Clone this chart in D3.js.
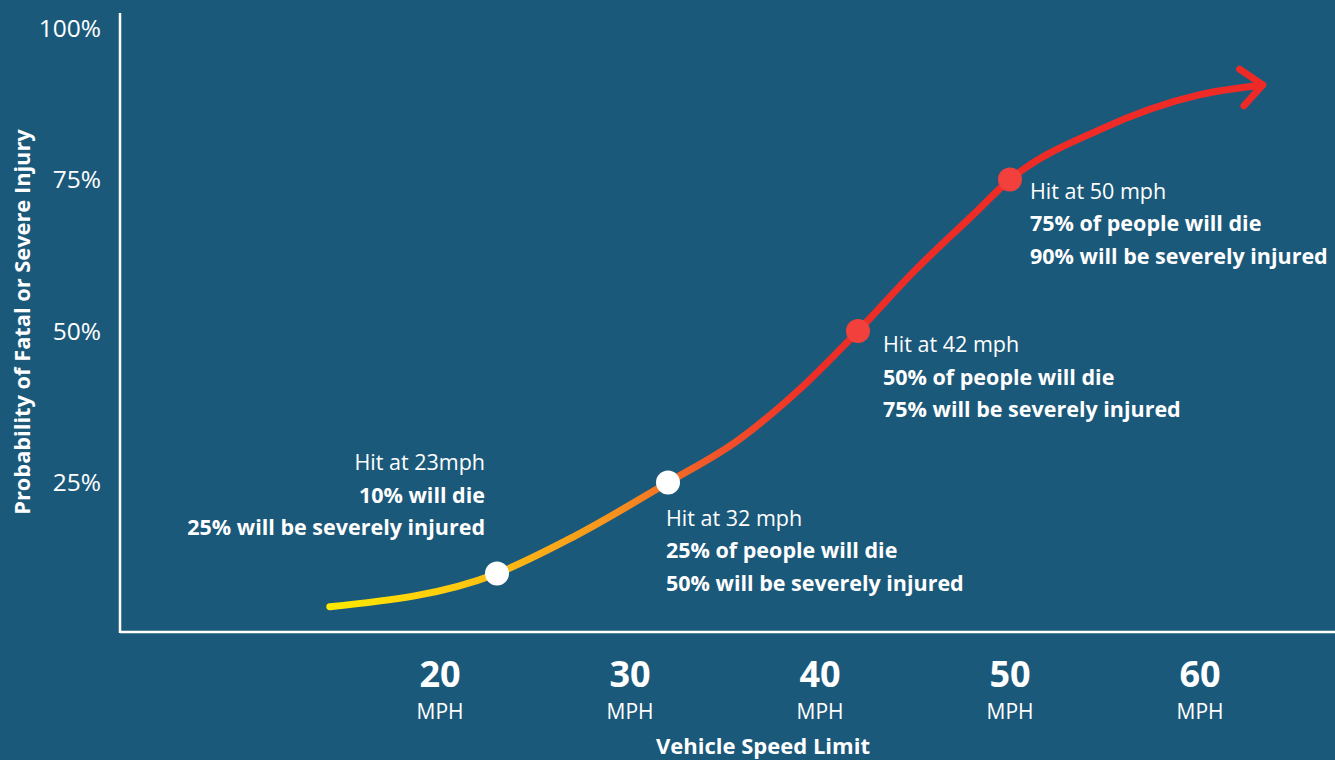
<!DOCTYPE html>
<html>
<head>
<meta charset="utf-8">
<script src="https://cdn.jsdelivr.net/npm/d3@7"></script>
<style>
  html, body { margin: 0; padding: 0; background: #1b597b; }
  svg { display: block; }
  text { font-family: "Open Sans", "Noto Sans", sans-serif; fill: #ffffff; }
</style>
</head>
<body>
<svg id="chart" width="1335" height="760"></svg>
<script>
// Risk curve: speed (mph) vs probability of fatal or severe injury (%)
const curveSpeed = [14.2, 23, 27, 32, 35.7, 38.9, 42, 45, 48, 50, 54.7, 60, 63.3];
const curvePct   = [4.5, 10, 16, 25, 32, 40.3, 50, 60, 69, 75, 83.2, 89, 90.6];

// Highlighted impact speeds
const hitSpeed = [23, 32, 42, 50];
const hitDie   = [10, 25, 50, 75];
const hitSevere = [25, 50, 75, 90];
const hitTitle = ["Hit at 23mph", "Hit at 32 mph", "Hit at 42 mph", "Hit at 50 mph"];
const hitLine2 = ["10% will die", "25% of people will die", "50% of people will die", "75% of people will die"];
const hitLine3 = ["25% will be severely injured", "50% will be severely injured", "75% will be severely injured", "90% will be severely injured"];
const hitFill  = ["#ffffff", "#ffffff", "#f2403c", "#f2403c"];

// Axis ticks
const xTicks = [20, 30, 40, 50, 60];
const xUnit = "MPH";
const yTicks = [25, 50, 75, 100];
const xTitle = "Vehicle Speed Limit";
const yTitle = "Probability of Fatal or Severe Injury";

const svg = d3.select("#chart");
const W = 1335, H = 760;

const x = d3.scaleLinear().domain([20, 60]).range([440, 1200]);
const y = d3.scaleLinear().domain([0, 100]).range([634, 28]);
const axisX = 120, axisY = 632;

// Axis frame
svg.append("line").attr("x1", axisX).attr("x2", axisX).attr("y1", 13).attr("y2", axisY + 1)
  .attr("stroke", "#fff").attr("stroke-width", 2.5);
svg.append("line").attr("x1", axisX).attr("x2", W).attr("y1", axisY).attr("y2", axisY)
  .attr("stroke", "#fff").attr("stroke-width", 2.5);

// Y tick labels
svg.append("g").selectAll("text").data(yTicks).join("text")
  .attr("x", 101).attr("y", d => y(d)).attr("dy", "0.35em")
  .attr("text-anchor", "end").attr("font-size", 24.5)
  .text(d => d + "%");

// X tick labels: number over unit
const xt = svg.append("g").selectAll("g").data(xTicks).join("g")
  .attr("transform", d => `translate(${x(d)},0)`);
xt.append("text").attr("y", 687).attr("text-anchor", "middle")
  .attr("font-size", 36).attr("font-weight", 700).text(d => d);
xt.append("text").attr("y", 719).attr("text-anchor", "middle")
  .attr("font-size", 21).text(xUnit);

// Axis titles
svg.append("text").attr("x", 763).attr("y", 754).attr("text-anchor", "middle")
  .attr("font-size", 22).attr("font-weight", 700).text(xTitle);
svg.append("text").attr("transform", "translate(30,322) rotate(-90)")
  .attr("text-anchor", "middle").attr("font-size", 21.8).attr("font-weight", 700).text(yTitle);

// Colour ramp along the curve, yellow to red
const defs = svg.append("defs");
const grad = defs.append("linearGradient").attr("id", "ramp")
  .attr("gradientUnits", "userSpaceOnUse")
  .attr("x1", x(curveSpeed[0])).attr("x2", x(curveSpeed[curveSpeed.length - 1]))
  .attr("y1", 0).attr("y2", 0);
[[0, "#ffea00"], [0.14, "#fdc90f"], [0.3, "#f7941d"], [0.4, "#f15a29"], [0.52, "#ee2d26"], [1, "#ee2a26"]]
  .forEach(([o, c]) => grad.append("stop").attr("offset", o).attr("stop-color", c));

const pts = curveSpeed.map((s, i) => [x(s), y(curvePct[i])]);
const line = d3.line().curve(d3.curveMonotoneX);
const path = svg.append("path").attr("d", line(pts))
  .attr("fill", "none").attr("stroke", "url(#ramp)").attr("stroke-width", 7)
  .attr("stroke-linecap", "round");

// Arrow head at the end of the curve
const node = path.node();
const L = node.getTotalLength();
const tip = node.getPointAtLength(L);
const back = node.getPointAtLength(L - 12);
const ang = Math.atan2(tip.y - back.y, tip.x - back.x);
const armLen = 28, spread = 0.72;
const a1 = [tip.x - armLen * Math.cos(ang - spread), tip.y - armLen * Math.sin(ang - spread)];
const a2 = [tip.x - armLen * Math.cos(ang + spread), tip.y - armLen * Math.sin(ang + spread)];
svg.append("path")
  .attr("d", `M${a1[0]},${a1[1]}L${tip.x},${tip.y}L${a2[0]},${a2[1]}`)
  .attr("fill", "none").attr("stroke", "#ee2a26").attr("stroke-width", 7)
  .attr("stroke-linecap", "round").attr("stroke-linejoin", "round");

// Impact points
svg.append("g").selectAll("circle").data(hitSpeed).join("circle")
  .attr("cx", d => x(d)).attr("cy", (d, i) => y(hitDie[i]))
  .attr("r", 12).attr("fill", (d, i) => hitFill[i]);

// Annotations: [dx, dy of first baseline, anchor] relative to each point
const notePos = [[-12, -103, "end"], [-2, 43, "start"], [25, 21, "start"], [20, 19, "start"]];
const notes = svg.append("g").selectAll("text").data(hitSpeed).join("text")
  .attr("text-anchor", (d, i) => notePos[i][2])
  .attr("transform", (d, i) => `translate(${x(d) + notePos[i][0]},${y(hitDie[i]) + notePos[i][1]})`);
notes.append("tspan").attr("x", 0).attr("y", 0).attr("font-size", 21.5).text((d, i) => hitTitle[i]);
notes.append("tspan").attr("x", 0).attr("y", 32.5).attr("font-size", 21.5).attr("font-weight", 700).text((d, i) => hitLine2[i]);
notes.append("tspan").attr("x", 0).attr("y", 65).attr("font-size", 21.5).attr("font-weight", 700).text((d, i) => hitLine3[i]);
</script>
</body>
</html>
